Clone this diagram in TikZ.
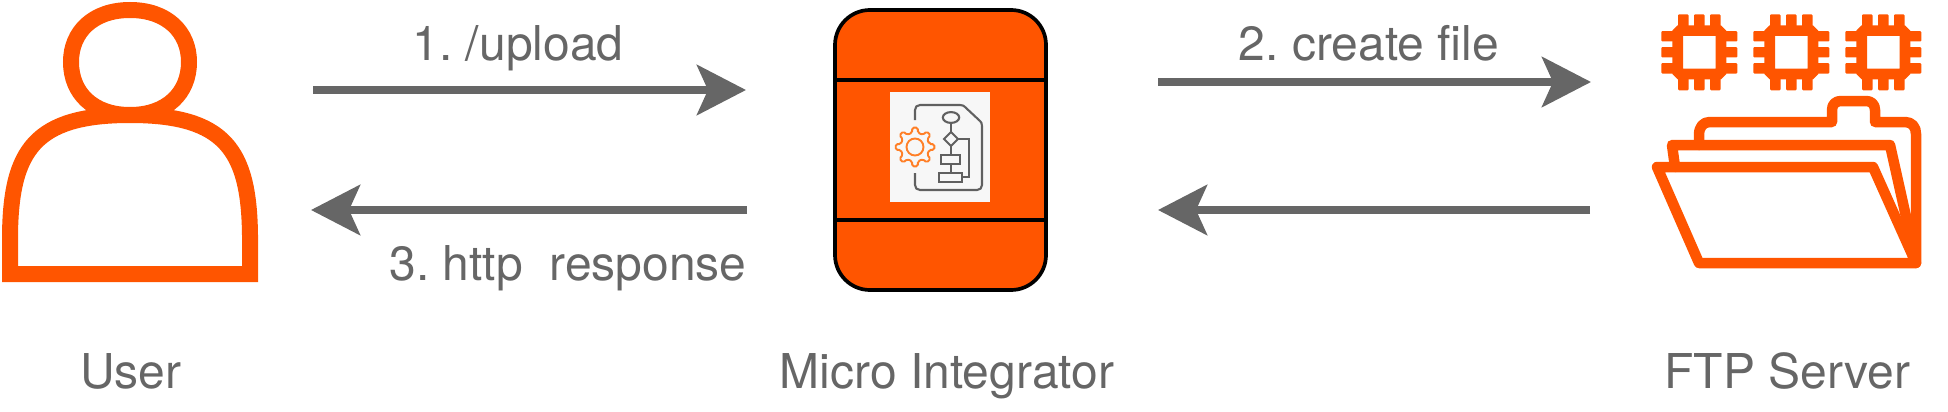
\documentclass[tikz,border=0pt]{standalone}
\usepackage{fontspec}
\setmainfont{TeX Gyre Heros}
\usetikzlibrary{arrows.meta}
\frenchspacing
\definecolor{wso}{HTML}{FF5500}
\definecolor{txt}{HTML}{666666}
\definecolor{icon}{HTML}{606060}
\definecolor{gearc}{HTML}{FF7F27}
\tikzset{
  lbl/.style={text=txt,inner sep=0pt,font=\fontsize{48}{54}\selectfont,anchor=base},
  flow/.style={draw=txt,line width=8pt,-{Stealth[length=49pt,width=50pt,inset=11pt]}},
  personline/.style={draw=wso,line width=16pt,miter limit=10},
  folderline/.style={draw=wso,line width=10.5pt,line join=round,line cap=round},
  iconline/.style={draw=icon,line width=2.1pt},
  band/.style={draw=black,line width=3.7pt}
}
\begin{document}
\begin{tikzpicture}[x=1pt,y=-1pt]
\useasboundingbox (0,0) rectangle (1948,412);
% user
\draw[personline] (130,10) .. controls (167,10) and (189,32) .. (189,62)
   .. controls (189,93) and (167,115) .. (130,115)
   .. controls (93,115) and (71,93) .. (71,62)
   .. controls (71,32) and (93,10) .. (130,10) -- cycle;
\draw[personline,fill=white] (10,274) -- (10,235) .. controls (11,150) and (35,115) .. (130,115)
   .. controls (225,115) and (249,150) .. (250,235) -- (250,274) -- cycle;
% micro integrator
\draw[band,fill=wso,rounded corners=35pt] (835,10) rectangle (1046,290);
\coordinate (bandL1) at (835,80); \coordinate (bandR1) at (1046,80);
\coordinate (bandL2) at (835,220); \coordinate (bandR2) at (1046,220);
\draw[band] (bandL1) -- (bandR1);
\draw[band] (bandL2) -- (bandR2);
\fill[white!97!black] (890,92) rectangle (990,202);
\draw[iconline,line join=round] (915,120) -- (915,110) .. controls (915,107) and (917,105) .. (920,105)
   -- (960,105) .. controls (963,105) and (964,106) .. (965,107) -- (980,121) .. controls (981,122) and (982,123) .. (982,126)
   -- (982,185) .. controls (982,188) and (980,190) .. (977,190) -- (920,190)
   .. controls (917,190) and (915,188) .. (915,185) -- (915,173);
\draw[iconline] (951,117.5) ellipse [x radius=8.2,y radius=5.4];
\draw[iconline] (951,123) -- (951,132);
\draw[iconline] (951,132) -- (958,139) -- (951,146) -- (944,139) -- cycle;
\draw[iconline] (958,139) -- (969,139) -- (969,177) -- (962,177);
\draw[iconline] (951,146) -- (951,155);
\draw[iconline] (941,155) rectangle (960,164);
\draw[iconline] (951,164) -- (951,173);
\draw[iconline] (939,173) rectangle (962,182);
\begin{scope}[shift={(915,147)}]
\draw[gearc,line width=1.9pt] (0,0) circle (8.5);
\draw[gearc,line width=1.9pt,rounded corners=1.6pt] (-12:14.5)
  \foreach \a in {0,45,...,315} { -- (\a-12:14.5) -- (\a-8:19.5) -- (\a+8:19.5) -- (\a+12:14.5) } -- cycle;
\end{scope}
% folder + chips
\foreach \cx in {1699.3,1791.3,1883.3} {
  \begin{scope}[shift={(\cx,52.3)}]
  \fill[wso,even odd rule] (-21.7,-27) -- (21.7,-27) -- (27,-21.7) -- (27,21.7) -- (21.7,27) -- (-21.7,27) -- (-27,21.7) -- (-27,-21.7) -- cycle
     (-16.3,-16.3) rectangle (16.3,16.3);
  \foreach \p in {-16,0,16} {
    \fill[wso,rounded corners=1pt] (\p-5.2,-38) rectangle (\p+5.2,-25);
    \fill[wso,rounded corners=1pt] (\p-5.2,38) rectangle (\p+5.2,25);
    \fill[wso,rounded corners=1pt] (-38,\p-5.2) rectangle (-25,\p+5.2);
    \fill[wso,rounded corners=1pt] (38,\p-5.2) rectangle (25,\p+5.2);
  }
  \end{scope}
}
\draw[folderline] (1699,145) -- (1699,135) .. controls (1699,127) and (1703,122) .. (1710,122)
  -- (1832,122) -- (1832,110) .. controls (1832,104) and (1836,101) .. (1841,101) -- (1866,101)
  .. controls (1871,101) and (1875,104) .. (1875,110) -- (1875,122) -- (1905,122)
  .. controls (1912,122) and (1916,127) .. (1916,134) -- (1916,263);
\draw[folderline] (1675,167) -- (1672,145) -- (1890,145) -- (1915,257);
\draw[folderline] (1657,167) -- (1873,167) -- (1916,263) -- (1699,263) -- cycle;
% arrows
\coordinate (a1s) at (313,90); \coordinate (a1e) at (746,90);
\coordinate (a3s) at (747,210); \coordinate (a3e) at (311,210);
\coordinate (a2s) at (1158,82); \coordinate (a2e) at (1591,82);
\coordinate (a4s) at (1590,210); \coordinate (a4e) at (1158,210);
\draw[flow] (a1s) -- (a1e);
\draw[flow] (a3s) -- (a3e);
\draw[flow] (a2s) -- (a2e);
\draw[flow] (a4s) -- (a4e);
% labels
\node[lbl] (l1) at (518,60) {1. /upload};
\node[lbl] (l3) at (568,280) {3. http\ \ response};
\node[lbl] (l2) at (1369,60) {2. create file};
\node[lbl] (uLbl) at (131,388) {User};
\node[lbl] (mLbl) at (947,388) {Micro Integrator};
\node[lbl] (fLbl) at (1787.5,388) {FTP Server};
\end{tikzpicture}
\end{document}
